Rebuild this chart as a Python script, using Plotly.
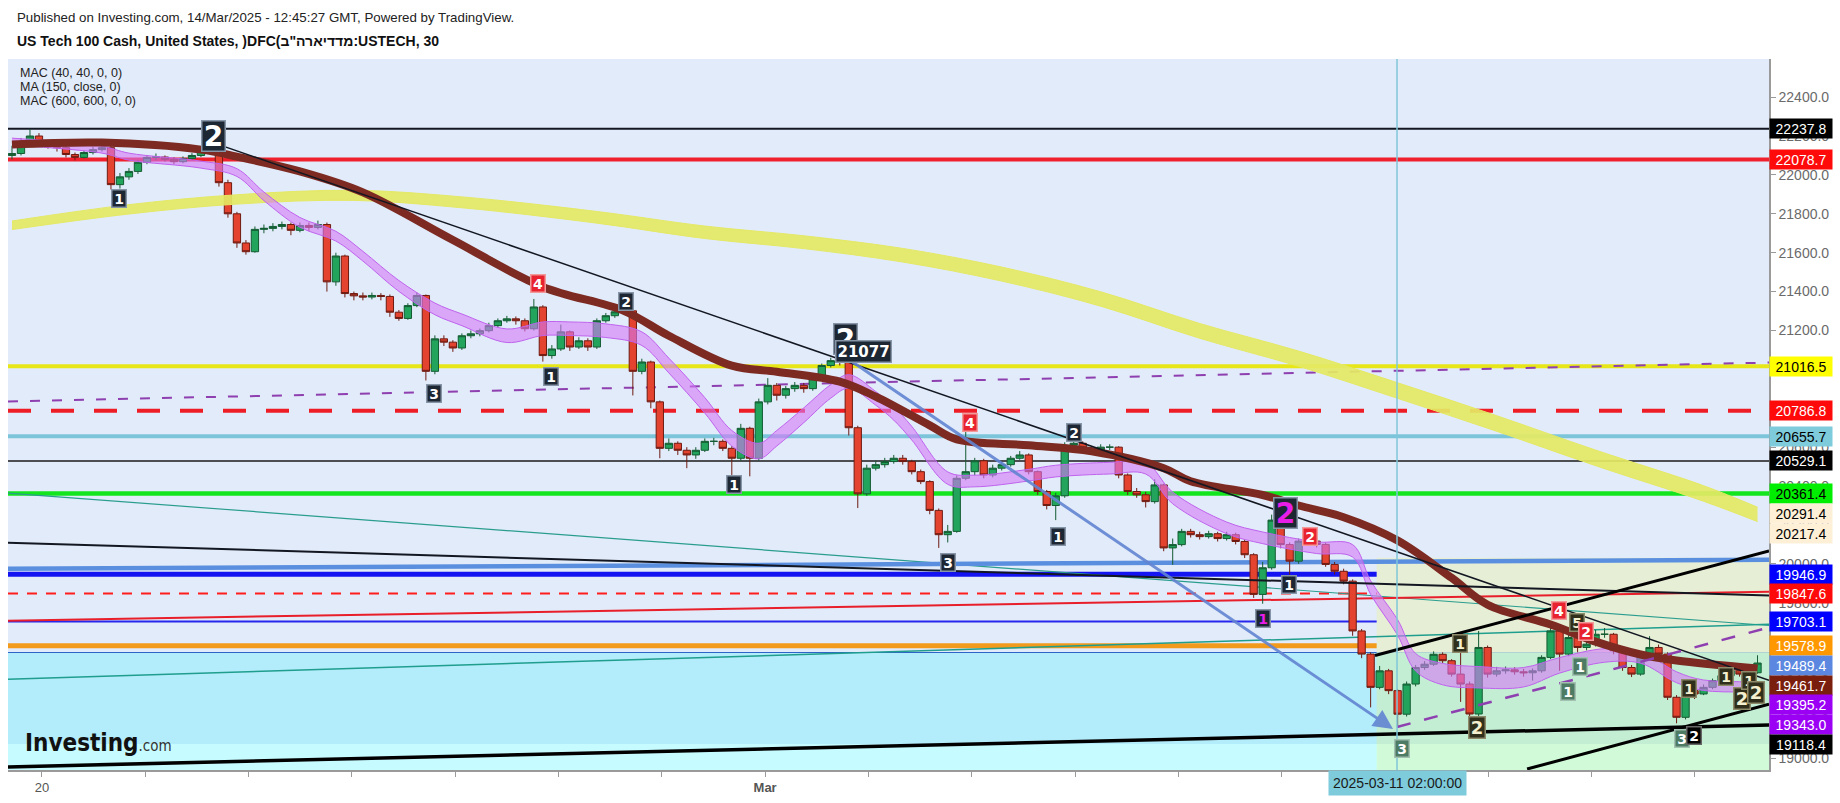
import plotly.graph_objects as go

# ======================= DATA =======================
# time axis in trading-session days: 0 = Feb 20, 7 = Mar 3 ("Mar"), 16 = Mar 14
DAY_TICKS = list(range(17))
DAY_LABELS = ["20", "", "", "", "", "", "", "<b>Mar</b>", "", "", "", "", "", "", "", "", ""]
BAR_START = -0.2904      # first aggregated 2-hour bar
BAR_STEP = 0.0871        # one 2-hour bar (session-day units)

OPEN_FIRST = 22100
CLOSE = [22110, 22170, 22200, 22165, 22155, 22140, 22105, 22090, 22115, 22130,
         22140, 21950, 21990, 22018, 22065, 22090, 22092, 22080, 22068, 22085,
         22100, 22130, 22166, 21960, 21800, 21650, 21605, 21720, 21725, 21735,
         21745, 21715, 21740, 21730, 21745, 21450, 21583, 21390, 21378, 21372,
         21380, 21375, 21294, 21262, 21328, 21380, 20990, 21157, 21140, 21110,
         21173, 21183, 21199, 21225, 21250, 21260, 21250, 21209, 21321, 21071,
         21105, 21193, 21115, 21147, 21115, 21250, 21276, 21296, 21301, 20990,
         21038, 20833, 20594, 20620, 20584, 20560, 20584, 20630, 20630, 20594,
         20543, 20697, 20543, 20833, 20918, 20867, 20901, 20918, 20901, 20952,
         21020, 21045, 21040, 20700, 20360, 20492, 20510, 20526, 20543, 20526,
         20474, 20423, 20275, 20150, 20167, 20440, 20474, 20530, 20457, 20492,
         20510, 20543, 20560, 20474, 20372, 20300, 20350, 20610, 20620, 20594,
         20585, 20600, 20600, 20457, 20372, 20355, 20320, 20406, 20082, 20099,
         20167, 20150, 20140, 20155, 20130, 20150, 20115, 20047, 19843, 19980,
         20225, 20099, 20014, 20117, 20117, 20100, 19997, 19962, 19911, 19655,
         19536, 19365, 19450, 19348, 19227, 19382, 19467, 19484, 19535, 19502,
         19433, 19382, 19228, 19570, 19433, 19450, 19455, 19445, 19440, 19450,
         19519, 19655, 19536, 19621, 19570, 19587, 19638, 19638, 19553, 19467,
         19433, 19536, 19570, 19536, 19314, 19211, 19348, 19331, 19365, 19399,
         19425, 19450, 19433, 19440, 19490]
HIGH = [22150, 22190, 22237, 22215, 22180, 22165, 22150, 22115, 22125, 22145,
        22160, 22150, 22010, 22035, 22075, 22100, 22110, 22100, 22090, 22095,
        22112, 22140, 22190, 22180, 21975, 21810, 21665, 21735, 21745, 21752,
        21760, 21755, 21755, 21755, 21765, 21755, 21600, 21590, 21400, 21395,
        21395, 21392, 21385, 21305, 21340, 21395, 21385, 21175, 21175, 21150,
        21185, 21200, 21210, 21240, 21262, 21275, 21272, 21262, 21362, 21330,
        21125, 21230, 21200, 21165, 21160, 21262, 21290, 21310, 21330, 21310,
        21055, 21045, 20840, 20645, 20630, 20600, 20600, 20645, 20648, 20640,
        20605, 20720, 20705, 20850, 20955, 20930, 20915, 20935, 20930, 20965,
        21030, 21060, 21077, 21050, 20710, 20510, 20530, 20545, 20560, 20560,
        20535, 20485, 20430, 20285, 20200, 20455, 20697, 20545, 20540, 20510,
        20525, 20555, 20580, 20568, 20480, 20380, 20365, 20625, 20662, 20630,
        20605, 20615, 20615, 20605, 20465, 20390, 20370, 20435, 20412, 20130,
        20180, 20180, 20165, 20170, 20165, 20165, 20160, 20125, 20055, 20010,
        20253, 20235, 20110, 20130, 20140, 20135, 20110, 20010, 19975, 19920,
        19665, 19545, 19475, 19460, 19355, 19395, 19480, 19500, 19550, 19545,
        19510, 19620, 19395, 19655, 19580, 19470, 19472, 19468, 19460, 19462,
        19530, 19705, 19665, 19655, 19630, 19605, 19660, 19670, 19645, 19560,
        19480, 19550, 19628, 19585, 19545, 19325, 19370, 19375, 19380, 19410,
        19440, 19462, 19458, 19462, 19530]
LOW = [22080, 22100, 22160, 22150, 22135, 22120, 22090, 22075, 22085, 22105,
       22120, 21925, 21930, 21975, 22005, 22055, 22075, 22068, 22055, 22060,
       22078, 22092, 22120, 21940, 21780, 21625, 21590, 21600, 21700, 21710,
       21720, 21690, 21705, 21712, 21720, 21400, 21430, 21370, 21355, 21355,
       21360, 21355, 21270, 21250, 21255, 21320, 20943, 20975, 21120, 21090,
       21100, 21160, 21170, 21190, 21215, 21240, 21230, 21195, 21200, 21040,
       21055, 21095, 21095, 21105, 21095, 21105, 21240, 21265, 21285, 20866,
       20975, 20800, 20543, 20580, 20560, 20492, 20540, 20575, 20610, 20580,
       20450, 20530, 20450, 20530, 20820, 20840, 20850, 20885, 20880, 20890,
       20945, 21010, 21020, 20660, 20287, 20350, 20480, 20495, 20515, 20510,
       20460, 20410, 20255, 20082, 20110, 20160, 20430, 20455, 20440, 20445,
       20480, 20500, 20535, 20460, 20355, 20280, 20225, 20340, 20600, 20580,
       20570, 20575, 20585, 20440, 20355, 20340, 20290, 20310, 20065, 19995,
       20090, 20135, 20125, 20130, 20115, 20120, 20100, 20030, 19825, 19795,
       19970, 20080, 19945, 20000, 20100, 20085, 19985, 19945, 19895, 19630,
       19515, 19262, 19355, 19330, 19160, 19215, 19370, 19455, 19475, 19490,
       19420, 19290, 19190, 19215, 19415, 19420, 19435, 19430, 19420, 19400,
       19440, 19510, 19450, 19525, 19545, 19555, 19575, 19620, 19535, 19450,
       19418, 19425, 19525, 19520, 19300, 19180, 19200, 19305, 19325, 19355,
       19390, 19415, 19420, 19425, 19435]

# MAC (600) channel (yellow), sampled at bar numbers
MA600_BARS = [0, 13, 25, 38, 50, 65, 77, 88, 99, 110, 121, 132, 143, 154, 165, 176, 188, 194]
MA600_UPPER = [21763, 21847, 21898, 21921, 21887, 21812, 21737, 21687, 21622, 21526,
               21399, 21236, 21094, 20931, 20762, 20585, 20402, 20291.4]
MA600_LOWER = [21719, 21799, 21850, 21869, 21831, 21752, 21673, 21621, 21552, 21454,
               21325, 21160, 21016, 20851, 20682, 20505, 20322, 20217.4]
# MA (150, close) (brown)
MA150_BARS = [0, 10, 21, 25, 32, 39, 49, 59, 68, 73, 80, 85, 92, 96, 102, 105, 113, 120,
              128, 131, 139, 143, 148, 154, 160, 164, 171, 176, 181, 185, 194]
MA150 = [22156, 22166, 22130, 22094, 22018, 21910, 21665, 21424, 21301, 21173, 21019,
         20988, 20937, 20860, 20712, 20640, 20610, 20579, 20492, 20425, 20354, 20300,
         20240, 20120, 19928, 19790, 19688, 19600, 19534, 19503, 19461.7]
# MAC (40) channel (violet)
MA40_BARS = [0, 10, 13, 21, 25, 28, 32, 36, 39, 43, 47, 50, 55, 59, 62, 66, 70, 73, 77, 80,
             83, 85, 88, 91, 93, 96, 98, 100, 104, 107, 113, 116, 122, 126, 129, 135, 139,
             145, 149, 151, 154, 156, 159, 163, 168, 172, 177, 181, 185, 188, 194]
MA40_UPPER = [22189, 22148, 22112, 22071, 22032, 21912, 21781, 21710, 21607, 21457, 21341,
              21285, 21208, 21244, 21244, 21234, 21193, 21058, 20855, 20686, 20620, 20686,
              20802, 20922, 20973, 20886, 20809, 20707, 20473, 20456, 20486, 20507, 20522,
              20522, 20369, 20215, 20164, 20113, 20099, 19913, 19713, 19539, 19488, 19472,
              19467, 19518, 19564, 19549, 19445, 19403, 19395.2]
MA40_LOWER = [22153, 22112, 22076, 22035, 21992, 21868, 21731, 21660, 21557, 21401, 21281,
              21225, 21138, 21174, 21174, 21164, 21123, 20982, 20775, 20606, 20540, 20606,
              20726, 20852, 20903, 20816, 20739, 20637, 20409, 20396, 20426, 20447, 20462,
              20462, 20309, 20155, 20104, 20053, 20035, 19843, 19633, 19449, 19378, 19362,
              19367, 19438, 19494, 19489, 19389, 19349, 19343.0]

# horizontal price levels drawn across the chart
LEVEL_PRICES = [22237.8, 22078.7, 21016.5, 20786.8, 20655.7, 20529.1, 20361.4,
                19946.9, 19847.6, 19703.1, 19578.9, 19541.0, 19489.4, 19118.4, 19074.0]
# price tags on the right scale
TAG_VALUES = [22237.8, 22078.7, 21016.5, 20786.8, 20655.7, 20529.1, 20361.4, 20291.4,
              20217.4, 19946.9, 19847.6, 19703.1, 19578.9, 19489.4, 19461.7, 19395.2,
              19343.0, 19118.4]

# trend lines: (start day, start price) -> (end day, end price)
TREND_T0 = [1.655, -0.329, -0.329, -0.329, -0.329, -0.329, 13.117, 12.904, 14.376, -0.329, -0.329]
TREND_P0 = [22166, 20109, 20364, 19407, 19708, 20835, 19161, 19529, 18945, 18956, 19975]
TREND_T1 = [16.718, 16.718, 16.718, 16.718, 16.718, 16.718, 16.718, 16.718, 16.718, 16.718, 16.718]
TREND_P1 = [19401, 19837, 19683, 19689, 19857, 21035, 19673, 20066, 19278, 19171, 20021]

ARROW_T = [7.725, 13.078]
ARROW_P = [21082, 19151]

# shaded zones
ZONE_T0 = [-0.33, -0.33, 12.92, 12.92, 12.92]
ZONE_T1 = [16.72, 16.72, 16.72, 16.72, 16.72]
ZONE_P0 = [19541, 19074, 19545, 19074, 20031]
ZONE_P1 = [19074, 18940, 19074, 18940, 19545]

CROSS_T = 13.117
CROSS_LABEL = "2025-03-11 02:00:00"

# wave-count markers
WAVE_T = [1.665, 0.750, 4.797, 5.649, 4.923, 3.795, 6.699, 7.778, 8.984, 9.990, 8.766, 9.835,
          12.038, 12.270, 12.071, 11.815, 13.727, 13.892, 13.170, 14.685, 14.855, 14.942,
          14.884, 14.768, 15.944, 15.876, 15.992, 16.297, 16.452, 16.520, 16.592]
WAVE_P = [22199, 21879, 21444, 21347, 20963, 20876, 20407, 21155, 20727, 20673, 20005, 20141,
          20261, 20141, 19895, 19721, 19588, 19160, 19053, 19762, 19698, 19652,
          19470, 19345, 19358, 19102, 19119, 19419, 19309, 19401, 19340]
WAVE_TEXT = ["2", "1", "4", "2", "1", "3", "1", "2", "4", "2", "3", "1",
             "2", "2", "1", "1", "1", "2", "3", "4", "5", "2",
             "1", "1", "1", "3", "2", "1", "2", "1", "2"]
PEAK_T, PEAK_P, PEAK_TEXT = 7.957, 21091, "21077"

HEADER_TEXT = "Published on Investing.com, 14/Mar/2025 - 12:45:27 GMT, Powered by TradingView."
TITLE_TEXT = "US Tech 100 Cash, United States, )DFC(מדדיארה\"ב:USTECH, 30"
LEGEND_TEXT = ["MAC (40, 40, 0, 0)", "MA (150, close, 0)", "MAC (600, 600, 0, 0)"]

# ======================= STYLES / LAYOUT =======================
W, H = 1840, 803
PL, PR, PT, PB = 8, 1769, 59, 773
X_RANGE = [-0.329, 16.718]
Y_RANGE = [18940, 22596]
FONT = "Liberation Sans, Arial, sans-serif"

LEVEL_STYLE = [("#131722", 2, "solid"), ("#f0202c", 4, "solid"), ("#e6e619", 4, "solid"),
               ("#ee1c25", 4, "23px,20px"), ("#7cc4da", 4, "solid"), ("#1a1a1a", 1.5, "solid"),
               ("#12e41e", 4.5, "solid"), ("#1414f2", 5, "solid"), ("#ff1e1e", 2, "10px,9px"),
               ("#2626ee", 2, "solid"), ("#f29a1c", 5, "solid"), ("#2e64c8", 2, "solid"),
               ("#4a7fe0", 1.5, "dot"), ("#1b3a40", 2, "solid"), ("#1b3a40", 2, "solid")]
TAG_STYLE = [("#000000", "#ffffff"), ("#ff0a0a", "#ffffff"), ("#ffff00", "#000000"),
             ("#ff0a0a", "#ffffff"), ("#7ecbdb", "#000000"), ("#000000", "#ffffff"),
             ("#00ee00", "#000000"), ("#fdf0d7", "#000000"), ("#fdf0d7", "#000000"),
             ("#0000ff", "#ffffff"), ("#ff0a0a", "#ffffff"), ("#0000ff", "#ffffff"),
             ("#ff9800", "#ffffff"), ("#5b87e0", "#ffffff"), ("#7a1e0e", "#ffffff"),
             ("#9b00f5", "#ffffff"), ("#9b00f5", "#ffffff"), ("#000000", "#ffffff")]
TREND_STYLE = [("#131722", 1.5, "solid", "above"), ("#131722", 2, "solid", "above"),
               ("#2a9d8f", 1.2, "solid", "below"), ("#1f9e8e", 1.5, "solid", "below"),
               ("#e81e2a", 2, "solid", "below"), ("#8e3fb0", 2, "10px,12px", "below"),
               ("#8e3fb0", 2.5, "14px,14px", "above"), ("#000000", 3, "solid", "above"),
               ("#000000", 3, "solid", "above"), ("#000000", 3.5, "solid", "above"),
               ("#5a8fe0", 4.5, "solid", "below")]
ZONE_COLORS = ["#b3ecfa", "#c6fcff", "#c3eed3", "#d1fbd8", "#e6eed6"]
WAVE_STYLE = ["dark", "dark", "red", "dark", "dark", "dark", "dark", "dark", "red", "dark", "dark", "dark",
              "darkmag", "red", "dark", "darkmag", "olive", "olive", "gg", "red", "olive", "red",
              "gg", "gg", "olive", "gg", "black", "olive", "olive", "olive", "olive"]
WAVE_SIZE = ["L", "S", "S", "S", "S", "S", "S", "L", "S", "S", "S", "S",
             "L", "S", "S", "S", "S", "M", "S", "S", "S", "S",
             "S", "S", "S", "S", "S", "S", "M", "S", "M"]
BOX = {"dark": ("#1d2633", "#8795a8", "#ffffff"), "red": ("#e8222f", "#f29a9a", "#ffffff"),
       "olive": ("#2f2f1c", "#8d8b6a", "#f4efcf"), "gg": ("#4d7b64", "#a3c1b1", "#ffffff"),
       "black": ("#000000", "#666666", "#ffffff"), "darkmag": ("#1d2633", "#8795a8", "#e81ee8")}
SIZE = {"S": (14, 11, 14), "M": (18, 13, 18), "L": (28, 20, 27)}


def px_x(px):
    return (px - PL) / (PR - PL)


def px_y(py):
    return (PB - py) / (PB - PT)


fig = go.Figure()

# zones
for t0, t1, p0, p1, c in zip(ZONE_T0, ZONE_T1, ZONE_P0, ZONE_P1, ZONE_COLORS):
    fig.add_shape(type="rect", xref="x", yref="y", x0=t0, x1=t1, y0=p0, y1=p1,
                  fillcolor=c, line=dict(width=0), layer="below")

# horizontal levels
for p, (c, w, d) in zip(LEVEL_PRICES, LEVEL_STYLE):
    fig.add_shape(type="line", xref="paper", yref="y", x0=0, x1=1, y0=p, y1=p,
                  line=dict(color=c, width=w, dash=d), layer="below")

# trend lines
for t0, p0, t1, p1, (c, w, d, lay) in zip(TREND_T0, TREND_P0, TREND_T1, TREND_P1, TREND_STYLE):
    fig.add_shape(type="line", xref="x", yref="y", x0=t0, y0=p0, x1=t1, y1=p1,
                  line=dict(color=c, width=w, dash=d), layer=lay)


def bar_t(bars):
    return [BAR_START + b * BAR_STEP for b in bars]


# moving averages
fig.add_trace(go.Scatter(x=bar_t(MA600_BARS), y=MA600_LOWER, mode="lines",
                         line=dict(color="#e4e964", width=1, shape="spline"), hoverinfo="skip"))
fig.add_trace(go.Scatter(x=bar_t(MA600_BARS), y=MA600_UPPER, mode="lines", fill="tonexty",
                         fillcolor="rgba(228,233,100,0.92)",
                         line=dict(color="#e4e964", width=1, shape="spline"), hoverinfo="skip"))
fig.add_trace(go.Scatter(x=bar_t(MA40_BARS), y=MA40_LOWER, mode="lines",
                         line=dict(color="#bf63ee", width=1, shape="spline"), hoverinfo="skip"))
fig.add_trace(go.Scatter(x=bar_t(MA40_BARS), y=MA40_UPPER, mode="lines", fill="tonexty",
                         fillcolor="rgba(214,120,246,0.6)",
                         line=dict(color="#bf63ee", width=1, shape="spline"), hoverinfo="skip"))
fig.add_trace(go.Scatter(x=bar_t(MA150_BARS), y=MA150, mode="lines",
                         line=dict(color="#7c2a22", width=8, shape="spline"), hoverinfo="skip"))

# candles
bar_times = [BAR_START + i * BAR_STEP for i in range(len(CLOSE))]
opens = [OPEN_FIRST] + CLOSE[:-1]
fig.add_trace(go.Candlestick(
    x=bar_times, open=opens, high=HIGH, low=LOW, close=CLOSE,
    increasing=dict(fillcolor="#22a45d", line=dict(color="#145c33", width=1)),
    decreasing=dict(fillcolor="#e4432f", line=dict(color="#6e1b12", width=1)),
    whiskerwidth=0, hoverinfo="skip"))

# arrow
fig.add_annotation(x=ARROW_T[1], y=ARROW_P[1], ax=ARROW_T[0], ay=ARROW_P[0],
                   xref="x", yref="y", axref="x", ayref="y", text="", showarrow=True,
                   arrowhead=2, arrowsize=1.3, arrowwidth=3, arrowcolor="rgba(98,132,210,0.9)")

# crosshair
fig.add_shape(type="line", xref="x", yref="paper", x0=CROSS_T, x1=CROSS_T, y0=0, y1=1,
              line=dict(color="#7fc7d9", width=1.5), layer="above")
fig.add_annotation(x=CROSS_T, y=0, xref="x", yref="paper", yanchor="top", showarrow=False,
                   text=CROSS_LABEL, bgcolor="#7ecbdb", borderpad=4,
                   font=dict(family=FONT, size=14, color="#1a1a1a"))

# wave-count markers
for t, p, txt, sty, sz in zip(WAVE_T, WAVE_P, WAVE_TEXT, WAVE_STYLE, WAVE_SIZE):
    bg, bd, fg = BOX[sty]
    fs, bw, bh = SIZE[sz]
    fig.add_annotation(x=t, y=p, xref="x", yref="y", text="<b>%s</b>" % txt, showarrow=False,
                       bgcolor=bg, bordercolor=bd, borderwidth=1.5, borderpad=1,
                       width=bw, height=bh, align="center", valign="middle",
                       font=dict(family="DejaVu Sans, sans-serif", size=fs, color=fg))
fig.add_annotation(x=PEAK_T, y=PEAK_P, xref="x", yref="y", text="<b>%s</b>" % PEAK_TEXT,
                   showarrow=False, bgcolor="#1d2633", bordercolor="#8795a8", borderwidth=1.5,
                   borderpad=1, font=dict(family="DejaVu Sans, sans-serif", size=15, color="#ffffff"))

# right-scale price tags, stacked like the original
px_per_unit = (PB - PT) / (Y_RANGE[1] - Y_RANGE[0])
gap = 19.8 / px_per_unit
order = sorted(range(len(TAG_VALUES)), key=lambda k: -TAG_VALUES[k])
prev = None
for k in order:
    v = TAG_VALUES[k]
    pos = v if prev is None else min(v, prev - gap)
    prev = pos
    bg, fg = TAG_STYLE[k]
    fig.add_annotation(x=1, y=pos, xref="paper", yref="y", xanchor="left", yanchor="middle",
                       text="%.1f" % v, showarrow=False, bgcolor=bg, borderpad=2,
                       width=58, height=15, align="center",
                       font=dict(family=FONT, size=14, color=fg))

# header / legend / watermark
fig.add_annotation(x=px_x(15), y=px_y(17.5), xref="paper", yref="paper", xanchor="left",
                   yanchor="middle", showarrow=False, text=HEADER_TEXT,
                   font=dict(family=FONT, size=13.3, color="#222222"))
fig.add_annotation(x=px_x(15), y=px_y(41), xref="paper", yref="paper", xanchor="left",
                   yanchor="middle", showarrow=False, text="<b>%s</b>" % TITLE_TEXT,
                   font=dict(family=FONT, size=14, color="#111111"))
for yy, txt in zip([73, 87, 101], LEGEND_TEXT):
    fig.add_annotation(x=px_x(18), y=px_y(yy), xref="paper", yref="paper", xanchor="left",
                       yanchor="middle", showarrow=False, text=txt,
                       font=dict(family=FONT, size=12.5, color="#222222"))
fig.add_annotation(x=px_x(23), y=px_y(746), xref="paper", yref="paper", xanchor="left",
                   yanchor="middle", showarrow=False,
                   text="<b>Investing</b><span style='font-size:15px;color:#333'>.com</span>",
                   font=dict(family="DejaVu Sans Condensed, DejaVu Sans, sans-serif", size=24, color="#111111"))

fig.update_layout(
    width=W, height=H, margin=dict(l=PL, r=W - PR, t=PT, b=H - PB),
    paper_bgcolor="#ffffff", plot_bgcolor="#e2ebf9", showlegend=False, hovermode=False,
    boxgap=0.1, boxgroupgap=0.1,
    xaxis=dict(range=X_RANGE, tickvals=DAY_TICKS, ticktext=DAY_LABELS, showgrid=False,
               zeroline=False, ticks="outside", ticklen=5, tickcolor="#9a9a9a",
               showline=True, linecolor="#9a9a9a", linewidth=1.5,
               tickfont=dict(family=FONT, size=13, color="#555555"),
               rangeslider=dict(visible=False), fixedrange=True),
    yaxis=dict(range=Y_RANGE, side="right", tickvals=list(range(19000, 22401, 200)),
               ticktext=["%.1f" % v for v in range(19000, 22401, 200)],
               showgrid=False, zeroline=False, ticks="outside", ticklen=5, tickcolor="#9a9a9a",
               showline=True, linecolor="#9a9a9a", linewidth=1.5,
               tickfont=dict(family=FONT, size=14, color="#6a6a6a"), fixedrange=True),
)

fig.write_html("out.html", config={"displayModeBar": False},
               post_script="document.body.style.margin='0';")
